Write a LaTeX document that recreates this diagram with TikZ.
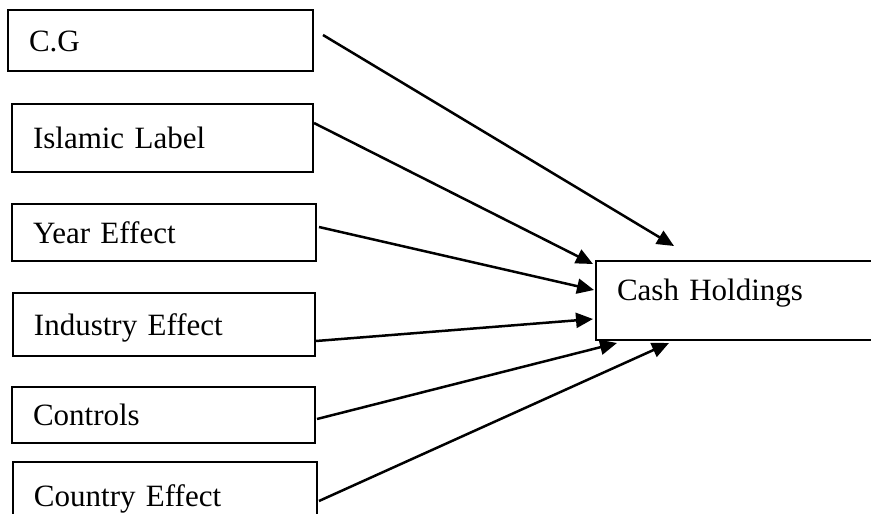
\documentclass[tikz,border=0pt]{standalone}
\usepackage{fontspec}
\setmainfont{Liberation Serif}
\usepackage{tikz}
\usetikzlibrary{arrows.meta,positioning,calc}
\tikzstyle{var} = [draw,line width=2pt,inner xsep=21pt,inner ysep=0pt,align=left,
  text height=21pt,text depth=0pt,font=\fontsize{31}{36}\selectfont]
\tikzstyle{link} = [line width=2.5pt,->]
\tikzset{>={Triangle[length=17pt,width=15pt]}}

\begin{document}
\begin{tikzpicture}[x=1pt,y=1pt]
    \useasboundingbox (0,0) rectangle (871,-514);
    \node [var,text width=263pt,minimum height=61pt] (cg) at (160.5,-40.5) {C.G};
    \node [var,text width=259pt,minimum height=68pt] (islamic) at (162.5,-138) {Islamic Label};
    \node [var,text width=262pt,minimum height=57pt] (year) at (164,-232.5) {Year Effect};
    \node [var,text width=260pt,minimum height=63pt] (industry) at (164,-324.5) {Industry Effect};
    \node [var,text width=261pt,minimum height=56pt] (controls) at (163.5,-415) {Controls};
    \node [var,text width=262pt,minimum height=68pt] (country) at (165,-496) {Country Effect};
    \node [var,text width=262pt,minimum height=79pt,text depth=21pt] (cash) at (748,-300.5) {Cash Holdings};
    \draw [link] ($(cg.east)+(9,5.5)$) -- ($(cash.north west)+(79,14)$);
    \draw [link] ($(islamic.east)+(0,15)$) -- ($(cash.north west)+(-2,-4)$);
    \draw [link] ($(year.east)+(2,5.5)$) -- ($(cash.west)+(-1,10.5)$);
    \draw [link] ($(industry.east)+(0,-16.5)$) -- ($(cash.west)+(-2,-18.5)$);
    \draw [link] ($(controls.east)+(1,-4)$) -- ($(cash.south west)+(22,-2)$);
    \draw [link] ($(country.east)+(1,-5)$) -- ($(cash.south west)+(74,-2)$);
  \end{tikzpicture}
\end{document}
